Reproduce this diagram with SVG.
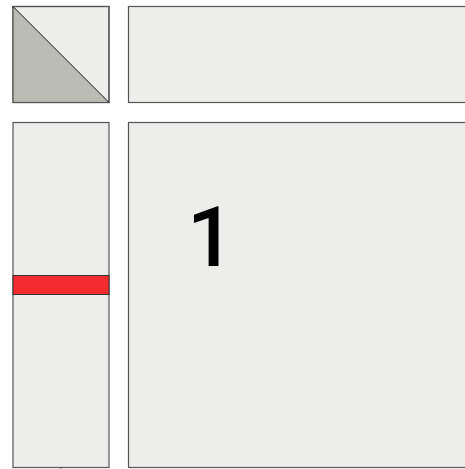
<svg xmlns="http://www.w3.org/2000/svg" width="465" height="469" viewBox="0 0 465 469">
<style>
.p{fill:#ededeb;stroke:#555;stroke-width:1.2}
</style>
<rect width="465" height="469" fill="#fff"/>
<g id="corner">
<rect class="p" x="13" y="6.5" width="96" height="96"/>
<path d="M13 6.5 L109 102.5 L13 102.5 Z" fill="#babcb4" stroke="none"/>
<rect x="13" y="6.5" width="96" height="96" fill="none" stroke="#555" stroke-width="1.2"/>
<line x1="13" y1="6.5" x2="109" y2="102.5" stroke="#111" stroke-width="1"/>
</g>
<g id="top">
<rect class="p" x="128.5" y="6.5" width="345" height="96"/>
</g>
<g id="left">
<rect class="p" x="13" y="122.5" width="96" height="345"/>
<rect x="13" y="275.5" width="96" height="19" fill="#f12b2e" stroke="#333" stroke-width="1"/>
<line x1="61" y1="467" x2="61" y2="469" stroke="#555" stroke-width="1"/>
</g>
<g id="main">
<rect class="p" x="128.5" y="122.5" width="345" height="345"/>
<text x="187" y="266" font-family="Roboto, 'Liberation Sans', sans-serif" font-size="84" font-weight="500" fill="#000">1</text>
</g>
</svg>
